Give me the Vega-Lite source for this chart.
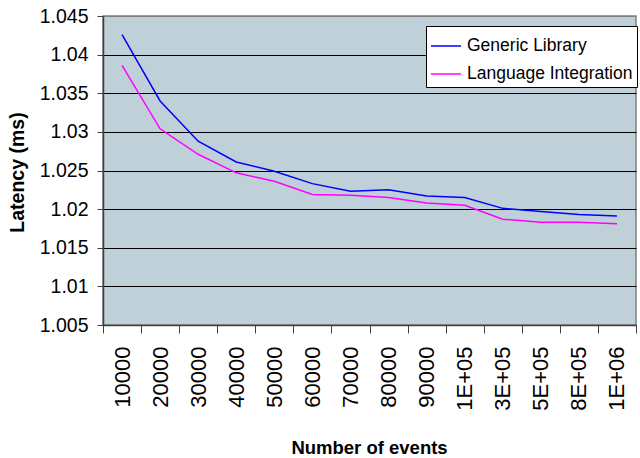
{
  "$schema": "https://vega.github.io/schema/vega-lite/v6.json",
  "width": 533,
  "height": 309,
  "autosize": {"type": "none"},
  "padding": {"left": 103, "top": 16, "right": 4, "bottom": 133},
  "background": "white",
  "config": {
    "view": {"fill": "#C0D0D8", "stroke": "#808080", "strokeWidth": 1.5},
    "font": "Liberation Sans"
  },
  "data": {
    "values": [
      {"events": "10000", "series": "Generic Library", "latency": 1.0426},
      {"events": "20000", "series": "Generic Library", "latency": 1.0340},
      {"events": "30000", "series": "Generic Library", "latency": 1.0288},
      {"events": "40000", "series": "Generic Library", "latency": 1.0261},
      {"events": "50000", "series": "Generic Library", "latency": 1.0249},
      {"events": "60000", "series": "Generic Library", "latency": 1.0233},
      {"events": "70000", "series": "Generic Library", "latency": 1.0223},
      {"events": "80000", "series": "Generic Library", "latency": 1.0225},
      {"events": "90000", "series": "Generic Library", "latency": 1.0217},
      {"events": "1E+05", "series": "Generic Library", "latency": 1.0215},
      {"events": "3E+05", "series": "Generic Library", "latency": 1.0201},
      {"events": "5E+05", "series": "Generic Library", "latency": 1.0197},
      {"events": "8E+05", "series": "Generic Library", "latency": 1.0193},
      {"events": "1E+06", "series": "Generic Library", "latency": 1.0191},
      {"events": "10000", "series": "Language Integration", "latency": 1.0386},
      {"events": "20000", "series": "Language Integration", "latency": 1.0304},
      {"events": "30000", "series": "Language Integration", "latency": 1.0271},
      {"events": "40000", "series": "Language Integration", "latency": 1.0247},
      {"events": "50000", "series": "Language Integration", "latency": 1.0236},
      {"events": "60000", "series": "Language Integration", "latency": 1.0219},
      {"events": "70000", "series": "Language Integration", "latency": 1.0218},
      {"events": "80000", "series": "Language Integration", "latency": 1.0215},
      {"events": "90000", "series": "Language Integration", "latency": 1.0208},
      {"events": "1E+05", "series": "Language Integration", "latency": 1.0205},
      {"events": "3E+05", "series": "Language Integration", "latency": 1.0187},
      {"events": "5E+05", "series": "Language Integration", "latency": 1.0183},
      {"events": "8E+05", "series": "Language Integration", "latency": 1.0183},
      {"events": "1E+06", "series": "Language Integration", "latency": 1.0181}
    ]
  },
  "mark": {"type": "line", "strokeWidth": 1.5},
  "encoding": {
    "x": {
      "field": "events",
      "type": "ordinal",
      "sort": null,
      "bandPosition": 0.5,
      "scale": {"type": "band", "paddingInner": 0, "paddingOuter": 0},
      "axis": {
        "title": "Number of events",
        "titleFont": "Liberation Sans",
        "titleFontSize": 18.5,
        "titleFontWeight": "bold",
        "titleColor": "black",
        "titleX": 266,
        "titleY": 128,
        "titleBaseline": "alphabetic",
        "titleAnchor": "middle",
        "labelAngle": -90,
        "labelAlign": "right",
        "labelBaseline": "middle",
        "labelFont": "Liberation Sans",
        "labelFontSize": 22,
        "labelColor": "black",
        "labelPadding": 13,
        "tickBand": "extent",
        "tickSize": 8,
        "tickColor": "#404040",
        "domainColor": "#404040",
        "domainWidth": 1.5,
        "grid": false
      }
    },
    "y": {
      "field": "latency",
      "type": "quantitative",
      "scale": {"domain": [1.005, 1.045], "zero": false, "nice": false},
      "axis": {
        "title": "Latency (ms)",
        "titleFont": "Liberation Sans",
        "titleFontSize": 19.5,
        "titleFontWeight": "bold",
        "titleColor": "black",
        "titleAngle": -90,
        "titleX": -86,
        "titleY": 156,
        "titleAlign": "center",
        "titleBaseline": "middle",
        "values": [1.005, 1.01, 1.015, 1.02, 1.025, 1.03, 1.035, 1.04, 1.045],
        "format": ".4~f",
        "labelFont": "Liberation Sans",
        "labelFontSize": 19.5,
        "labelColor": "black",
        "labelPadding": 9,
        "tickSize": 6,
        "tickColor": "#404040",
        "domainColor": "#404040",
        "domainWidth": 1.5,
        "grid": true,
        "gridColor": {"condition": {"test": "datum.value > 1.044", "value": "#808080"}, "value": "#000000"},
        "gridOpacity": 1,
        "gridWidth": 1
      }
    },
    "color": {
      "field": "series",
      "type": "nominal",
      "scale": {"domain": ["Generic Library", "Language Integration"], "range": ["#0000FF", "#FF00FF"]},
      "legend": {
        "title": null,
        "orient": "none",
        "legendX": 323,
        "legendY": 10,
        "fillColor": "white",
        "strokeColor": "black",
        "padding": 4,
        "symbolType": "stroke",
        "symbolSize": 900,
        "symbolStrokeWidth": 1.5,
        "labelFont": "Liberation Sans",
        "labelFontSize": 17.5,
        "labelColor": "black",
        "labelOffset": 5,
        "rowPadding": 3,
        "labelLimit": 300
      }
    }
  }
}
